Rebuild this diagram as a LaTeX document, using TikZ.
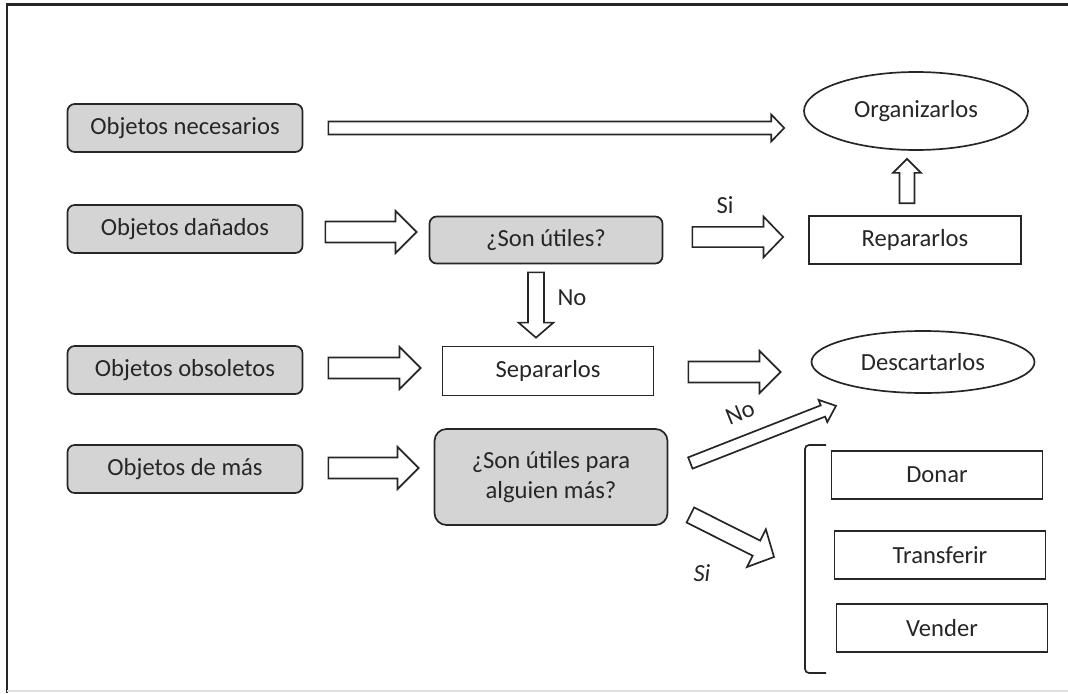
\documentclass[tikz,border=0pt]{standalone}
\usepackage{fontspec}
\setmainfont{Carlito}
\usetikzlibrary{shapes.geometric,calc,positioning}
\definecolor{boxgray}{HTML}{D4D4D4}
\definecolor{inkgray}{HTML}{262626}

% block arrow: from, to, half shaft, half head, head length
\newcommand{\blockarrow}[5]{%
  \draw[blockline] let \p1=(#1), \p2=(#2),
    \n1={atan2(\y2-\y1,\x2-\x1)}, \n2={veclen(\x2-\x1,\y2-\y1)} in
    {[shift={(\p1)},rotate=\n1]
    (0pt,-#3) -- ({\n2*1pt-#5},-#3) -- ({\n2*1pt-#5},-#4) -- ({\n2*1pt},0pt)
    -- ({\n2*1pt-#5},#4) -- ({\n2*1pt-#5},#3) -- (0pt,#3) -- cycle};}

\begin{document}
\begin{tikzpicture}[x=0.25mm,y=-0.25mm,
  font=\fontsize{17.5}{21}\selectfont, text=inkgray,
  obj/.style={draw=inkgray, line width=1.2pt, fill=boxgray, rounded corners=1.8mm,
    minimum width=58.75mm, minimum height=12mm, inner sep=0pt},
  ask/.style={obj, minimum width=58.25mm, minimum height=11.75mm},
  act/.style={draw=inkgray, line width=1.2pt, fill=white,
    minimum width=53mm, minimum height=12mm, inner sep=0pt},
  goal/.style={draw=inkgray, line width=1.2pt, ellipse,
    minimum width=56mm, minimum height=19.5mm, inner sep=0pt},
  tag/.style={inner sep=1pt},
  blockline/.style={draw=inkgray, line width=1.2pt, fill=white, line join=miter}]
\useasboundingbox (0,0) rectangle (1068,693);

% Frame
\draw[inkgray, line width=2pt] (7,693) -- (7,4.5) -- (1068,4.5);
\draw[black!12, line width=1pt] (7,691) -- (1068,691);

% Objects on the left
\foreach \nm/\yy/\txt in {nec/128/Objetos necesarios, dan/229/Objetos dañados,
    obs/370/Objetos obsoletos, mas/469/Objetos de más}
  \node[obj] (\nm) at (185,\yy) {\txt};

% Questions and actions
\node[ask] (util) at (546,240) {¿Son útiles?};
\node[act, minimum width=52.75mm, minimum height=12.25mm] (sep) at (548,371) {Separarlos};
\node[ask, minimum height=24mm, rounded corners=3mm, align=center] (utilm) at (551,477)
  {¿Son útiles para\\alguien más?};
\node[act] (rep) at (915,240) {Repararlos};
\node[goal] (org) at (916,111) {Organizarlos};
\node[goal, minimum width=55.75mm, minimum height=15.5mm] (desc) at (923,362) {Descartarlos};

% Options for the extra objects
\foreach \nm/\xx/\yy/\txt in {don/937/475/Donar, tra/940/555/Transferir, ven/942/628/Vender}
  \node[act, minimum width=52.75mm] (\nm) at (\xx,\yy) {\txt};

% Bracket
\coordinate (brk) at (805,559);
\draw[inkgray, line width=1.2pt, rounded corners=1mm]
  ($(brk)+(21,-114)$) -- ($(brk)+(0,-114)$) -- ($(brk)+(0,114)$) -- ($(brk)+(21,114)$);

% Block arrows
\blockarrow{$(nec.east)+(25,0)$}{$(org.west)+(-19,17)$}{4.6pt}{9.6pt}{9.2pt}
\blockarrow{$(dan.east)+(22,3)$}{$(util.west)+(-12,-8)$}{7.5pt}{15pt}{15pt}
\blockarrow{$(util.east)+(29,-3)$}{$(rep.west)+(-25,-3)$}{7.2pt}{14.5pt}{14pt}
\blockarrow{$(rep.north)+(-8,-12)$}{$(org.south)+(-9,8)$}{5.3pt}{10pt}{10pt}
\blockarrow{$(util.south)+(-10,8)$}{$(sep.north)+(-12,-8)$}{5.7pt}{12.4pt}{10.7pt}
\blockarrow{$(obs.east)+(25,-2)$}{$(sep.west)+(-21,-3)$}{7.5pt}{15pt}{15pt}
\blockarrow{$(sep.east)+(34,1)$}{$(desc.west)+(-30,10)$}{7.5pt}{15pt}{15pt}
\blockarrow{$(mas.east)+(25,-1)$}{$(utilm.west)+(-15,-9)$}{7.5pt}{15pt}{15pt}
\blockarrow{$(utilm.east)+(22,-14)$}{$(desc.south)+(-87,12)$}{4.3pt}{8.5pt}{10pt}
\blockarrow{$(utilm.east)+(22,38)$}{$(brk)+(-31,-2)$}{6pt}{15pt}{14pt}

% Labels
\node[tag] (si1) at (725,205) {Si};
\node[tag] (no1) at (572,298) {No};
\node[tag, rotate=22] (no2) at (740,413) {No};
\node[tag, font=\fontsize{17.5}{21}\selectfont\itshape] (si2) at (702,573) {Si};
\end{tikzpicture}
\end{document}
